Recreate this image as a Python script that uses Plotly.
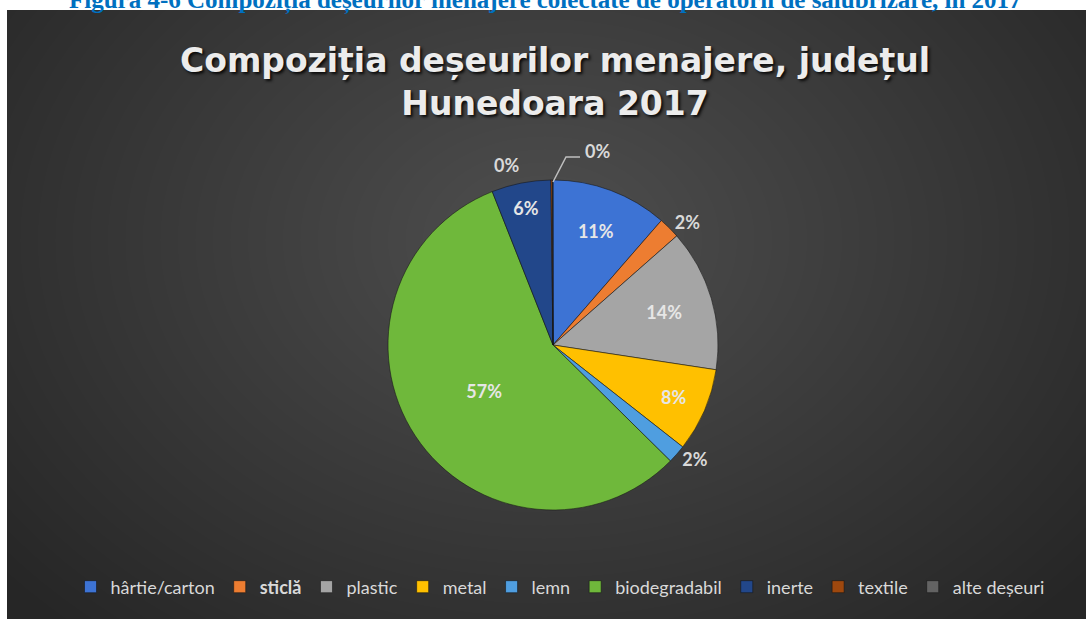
import plotly.graph_objects as go

W, H = 1086, 619

labels = ["hârtie/carton", "<b>sticlă</b>", "plastic", "metal", "lemn",
          "biodegradabil", "inerte", "textile", "alte deșeuri"]
values = [11.4, 2.1, 13.9, 8.2, 1.8, 56.6, 5.8, 0.15, 0.05]
colors = ["#3d73d4", "#ed7d31", "#a5a5a5", "#ffc000", "#4f9ee0",
          "#6fb83b", "#22478a", "#9e480e", "#636363"]
text_pos = ["inside", "outside", "inside", "inside", "outside",
            "inside", "inside", "none", "none"]

title_text = "Compoziția deșeurilor menajere, județul<br>Hunedoara 2017"
caption_text = "Figura 4-6 Compoziția deșeurilor menajere colectate de operatorii de salubrizare, în 2017"

total = sum(values)
pct = [f"{round(v / total * 100)}%" for v in values]

def px_x(x):
    return x / W

def px_y(y):
    return 1 - y / H

fig = go.Figure()
fig.add_trace(go.Pie(
    labels=labels, values=values, sort=False, direction="clockwise", rotation=0,
    marker=dict(colors=colors, line=dict(color="rgba(20,20,20,0.55)", width=1)),
    texttemplate="%{percent:.0%}", textposition=text_pos,
    insidetextorientation="horizontal",
    textfont=dict(family="Lato", size=18, color="#e6e6e6", weight="bold"),
    outsidetextfont=dict(family="Lato", size=18, color="#d9d9d9", weight="bold"),
    domain=dict(x=[px_x(553 - 165), px_x(553 + 165)], y=[px_y(345 + 165), px_y(345 - 165)]),
    hoverinfo="label+percent", showlegend=True,
))

shapes = [
    dict(type="rect", xref="paper", yref="paper", x0=px_x(7), x1=1, y0=0, y1=px_y(10),
         fillcolor="#262626", line=dict(width=0), layer="below"),
]
cx, cy = 545, 240
n = 40
for i in range(n):
    rx = 700 * (1 - i / n)
    ry = 520 * (1 - i / n)
    shapes.append(dict(type="circle", xref="paper", yref="paper",
                       x0=px_x(cx - rx), x1=px_x(cx + rx), y0=px_y(cy + ry), y1=px_y(cy - ry),
                       fillcolor="rgba(255,255,255,0.0062)", line=dict(width=0), layer="below"))
# restore white outside dark panel
shapes.append(dict(type="rect", xref="paper", yref="paper", x0=0, x1=px_x(7), y0=0, y1=1,
                   fillcolor="white", line=dict(width=0), layer="below"))
shapes.append(dict(type="rect", xref="paper", yref="paper", x0=0, x1=1, y0=px_y(10), y1=1,
                   fillcolor="white", line=dict(width=0), layer="below"))

label_font = dict(family="Lato", size=18, color="#d9d9d9", weight="bold")
annotations = [
    dict(text=title_text, x=px_x(555), y=px_y(82), xref="paper", yref="paper",
         xanchor="center", yanchor="middle", showarrow=False,
         font=dict(family="DejaVu Sans", size=33, color="#ececec", weight="bold",
                   shadow="2px 2px 3px rgba(0,0,0,0.85)")),
    dict(text="<b>" + caption_text + "</b>", x=px_x(545), y=px_y(17), xref="paper", yref="paper",
         xanchor="center", yanchor="bottom", showarrow=False,
         font=dict(family="Liberation Serif", size=25, color="#0070c0")),
    # small slices: textile (left of top) and alte deșeuri (with leader line)
    dict(text=pct[7], x=px_x(507), y=px_y(165), xref="paper", yref="paper",
         xanchor="center", yanchor="middle", showarrow=False, font=label_font),
    dict(text=pct[8], x=px_x(597), y=px_y(151), xref="paper", yref="paper",
         xanchor="center", yanchor="middle", showarrow=False, font=label_font),
]
shapes.append(dict(type="path", xref="paper", yref="paper",
                   path=f"M {px_x(553)},{px_y(182)} L {px_x(566)},{px_y(157)} L {px_x(580)},{px_y(157)}",
                   line=dict(color="#bfbfbf", width=1.5), layer="above"))

fig.update_layout(
    width=W, height=H,
    margin=dict(l=0, r=0, t=0, b=0),
    paper_bgcolor="white", plot_bgcolor="white",
    shapes=shapes, annotations=annotations,
    legend=dict(orientation="h", x=px_x(560), y=px_y(587), xanchor="center", yanchor="middle",
                font=dict(family="Lato", size=18, color="#d9d9d9"),
                bgcolor="rgba(0,0,0,0)", traceorder="normal"),
)

fig.write_html("out.html", config={"displayModeBar": False},
               post_script="document.body.style.margin='0';document.body.style.padding='0';")
